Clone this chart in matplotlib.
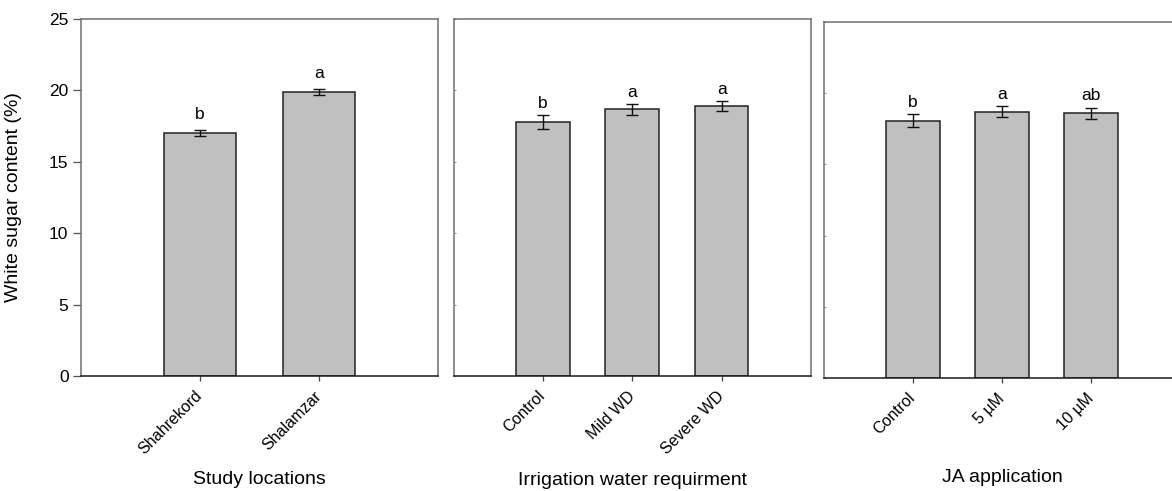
import matplotlib
matplotlib.use("Agg")
import matplotlib.pyplot as plt

plt.rcParams['font.family'] = ['Liberation Sans', 'DejaVu Sans']

# Study locations
loc_names = ["Shahrekord", "Shalamzar"]
loc_mean = [17.02, 19.89]
loc_se = [0.20, 0.21]
loc_letters = ["b", "a"]

# Irrigation water requirement
irr_names = ["Control", "Mild WD", "Severe WD"]
irr_mean = [17.81, 18.67, 18.88]
irr_se = [0.48, 0.40, 0.35]
irr_letters = ["b", "a", "a"]

# Jasmonic acid application
ja_names = ["Control", "5 µM", "10 µM"]
ja_mean = [18.05, 18.69, 18.58]
ja_se = [0.46, 0.40, 0.40]
ja_letters = ["b", "a", "ab"]

W, H = 1172, 491
fig = plt.figure(figsize=(W / 100, H / 100), dpi=100)


def panel(rect, names, mean, se, letters, xlabel, xlab_y, letter_off, first=False):
    ax = fig.add_axes(rect)
    x = list(range(len(names)))
    ax.bar(x, mean, width=0.6, color="#c0c0c0", edgecolor="#222222", linewidth=1.1, zorder=2)
    ax.errorbar(x, mean, yerr=se, fmt="none", ecolor="#111111", elinewidth=1.0,
                capsize=4.5, capthick=1.0, zorder=3)
    for xi, m, e, lab in zip(x, mean, se, letters):
        ax.annotate(lab, (xi, m + e), xytext=(0, letter_off), textcoords="offset points",
                    ha="center", va="bottom", fontsize=12.5)
    ax.set_xlim(-1, len(names))
    ax.set_ylim(0, 25)
    ax.set_xticks(x)
    ax.set_xticklabels(names, rotation=45, ha="right", va="center",
                       rotation_mode="anchor", fontsize=11.5)
    ax.tick_params(axis="x", direction="out", length=3.6, width=0.9, color="#444444", pad=9)
    ax.set_yticks([0, 5, 10, 15, 20, 25])
    if first:
        ax.tick_params(axis="y", direction="out", length=6, width=0.9, color="#555555",
                       labelsize=12.5, pad=3)
        ax.set_ylabel("White sugar content (%)", fontsize=14)
        ax.yaxis.set_label_coords(-0.165, 0.5)
    else:
        ax.tick_params(axis="y", direction="in", length=1.5, width=0.8, color="#999999",
                       labelleft=False)
    ax.set_xlabel(xlabel, fontsize=14)
    ax.xaxis.set_label_coords(0.5, xlab_y)
    for side in ("left", "top", "right"):
        ax.spines[side].set_color("#707070")
        ax.spines[side].set_linewidth(1.1)
    ax.spines["bottom"].set_color("#1a1a1a")
    ax.spines["bottom"].set_linewidth(1.1)
    return ax


panel([81 / W, (H - 376) / H, 357 / W, 357 / H], loc_names, loc_mean, loc_se, loc_letters,
      "Study locations", -0.266, 6, first=True)
panel([453.5 / W, (H - 376) / H, 357.5 / W, 357 / H], irr_names, irr_mean, irr_se, irr_letters,
      "Irrigation water requirment", -0.268, 3)
panel([823.5 / W, (H - 378.3) / H, 357 / W, 356.6 / H], ja_names, ja_mean, ja_se, ja_letters,
      "JA application", -0.254, 3)

fig.savefig("out.png", dpi=100)
